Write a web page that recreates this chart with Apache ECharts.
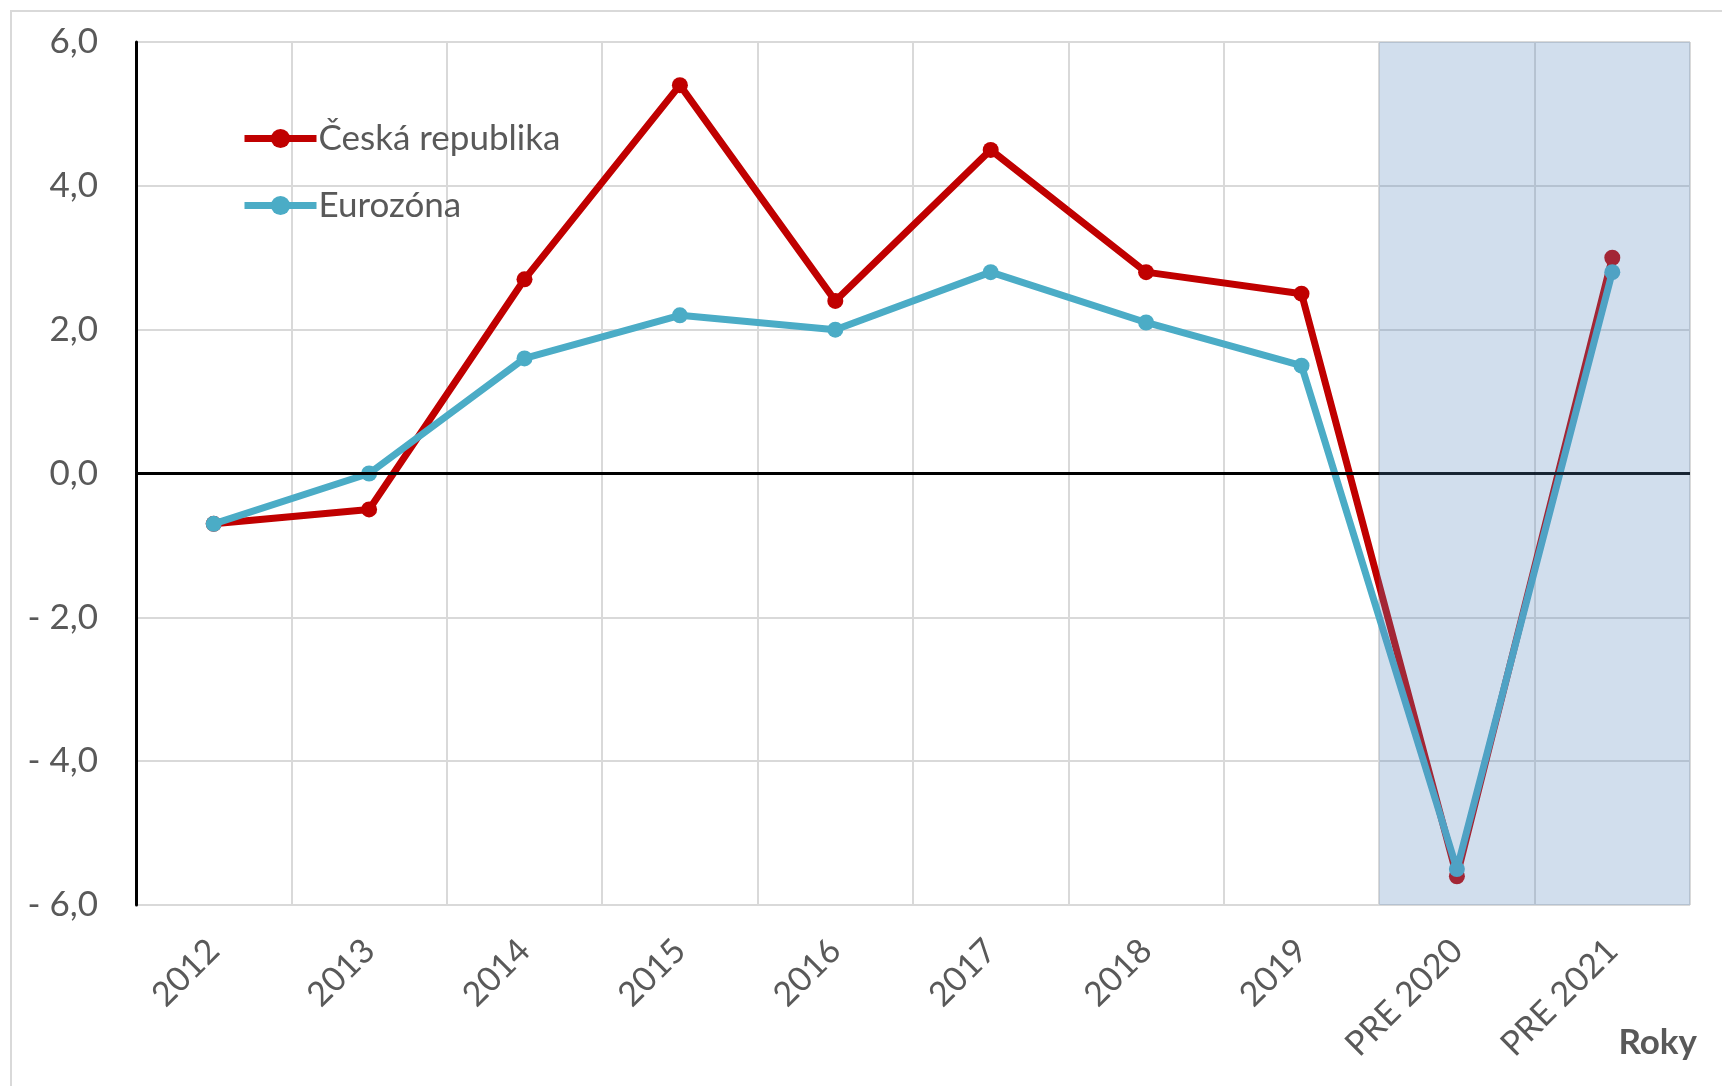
<!DOCTYPE html>
<html lang="cs">
<head>
    <meta charset="UTF-8">
    <title>HDP – Česká republika a Eurozóna</title>
    <script src="https://cdn.jsdelivr.net/npm/echarts@6/dist/echarts.min.js"></script>
</head>
<body style="margin: 0; background-color: #ffffff">
<div id="container" style="width: 1722px; height: 1086px"></div>
</body>
<script type="text/javascript">
    // data
    const years = ['2012', '2013', '2014', '2015', '2016', '2017', '2018', '2019', 'PRE 2020', 'PRE 2021'];
    const czValues = [-0.7, -0.5, 2.7, 5.4, 2.4, 4.5, 2.8, 2.5, -5.6, 3.0];
    const ezValues = [-0.7, 0.0, 1.6, 2.2, 2.0, 2.8, 2.1, 1.5, -5.5, 2.8];
    // shaded forecast columns (top and bottom of the value axis)
    const forecastTop = [null, null, null, null, null, null, null, null, 6, 6];
    const forecastBottom = [null, null, null, null, null, null, null, null, -6, -6];

    const textColor = '#595959';
    const font = 'Lato';

    let myChart = echarts.init(document.getElementById('container'));
    let option = {
        animation: false,
        textStyle: {fontFamily: font},
        graphic: [{
            type: 'rect',
            shape: {x: 11, y: 11, width: 1800, height: 1200},
            style: {fill: 'none', stroke: '#d9d9d9', lineWidth: 2},
            silent: true
        }],
        title: {
            text: 'Roky',
            right: 20,
            top: 1020,
            textStyle: {fontFamily: font, fontSize: 35, fontWeight: 'bold', color: textColor}
        },
        legend: {
            orient: 'vertical',
            left: 236,
            top: 116,
            itemWidth: 72,
            itemHeight: 24,
            itemGap: 32,
            data: ['Česká republika', 'Eurozóna'],
            lineStyle: {width: 7},
            textStyle: {fontFamily: font, fontSize: 35, color: textColor, padding: [0, 0, 0, -3]}
        },
        grid: {left: 136, right: 32, top: 42, bottom: 181},
        xAxis: {
            type: 'category',
            data: years,
            boundaryGap: true,
            axisLine: {show: false},
            axisTick: {show: false},
            axisLabel: {
                rotate: 45,
                margin: 40,
                interval: 0,
                fontFamily: font,
                fontSize: 34,
                color: textColor
            },
            splitLine: {show: true, lineStyle: {color: '#d9d9d9', width: 2}}
        },
        yAxis: {
            type: 'value',
            min: -6,
            max: 6,
            interval: 2,
            axisLine: {show: true, lineStyle: {color: '#000000', width: 3}},
            axisTick: {show: false},
            axisLabel: {
                margin: 38,
                fontFamily: font,
                fontSize: 35,
                color: textColor,
                formatter: function (v) {
                    let s = Math.abs(v).toFixed(1).replace('.', ',');
                    return v < 0 ? '- ' + s : s;
                }
            },
            splitLine: {show: true, lineStyle: {color: '#d9d9d9', width: 2}}
        },
        series: [
            {
                // nulová osa
                name: 'zero',
                type: 'line',
                data: [],
                z: 1,
                silent: true,
                markLine: {
                    silent: true,
                    symbol: 'none',
                    label: {show: false},
                    lineStyle: {color: '#000000', width: 3, type: 'solid'},
                    data: [{yAxis: 0}]
                }
            },
            {
                name: 'Česká republika',
                type: 'line',
                data: czValues,
                symbol: 'circle',
                symbolSize: 16,
                lineStyle: {color: '#c00000', width: 7},
                itemStyle: {color: '#c00000'},
                z: 2
            },
            {
                name: 'Eurozóna',
                type: 'line',
                data: ezValues,
                symbol: 'circle',
                symbolSize: 16,
                lineStyle: {color: '#4bacc6', width: 7},
                itemStyle: {color: '#4bacc6'},
                z: 3
            },
            {
                name: 'prognóza',
                type: 'bar',
                data: forecastTop,
                barWidth: '100%',
                barGap: '-100%',
                silent: true,
                itemStyle: {color: 'rgba(90,138,190,0.28)'},
                z: 10
            },
            {
                name: 'prognóza2',
                type: 'bar',
                data: forecastBottom,
                barWidth: '100%',
                barGap: '-100%',
                silent: true,
                itemStyle: {color: 'rgba(90,138,190,0.28)'},
                z: 10
            }
        ]
    };
    myChart.setOption(option);
</script>
</html>
